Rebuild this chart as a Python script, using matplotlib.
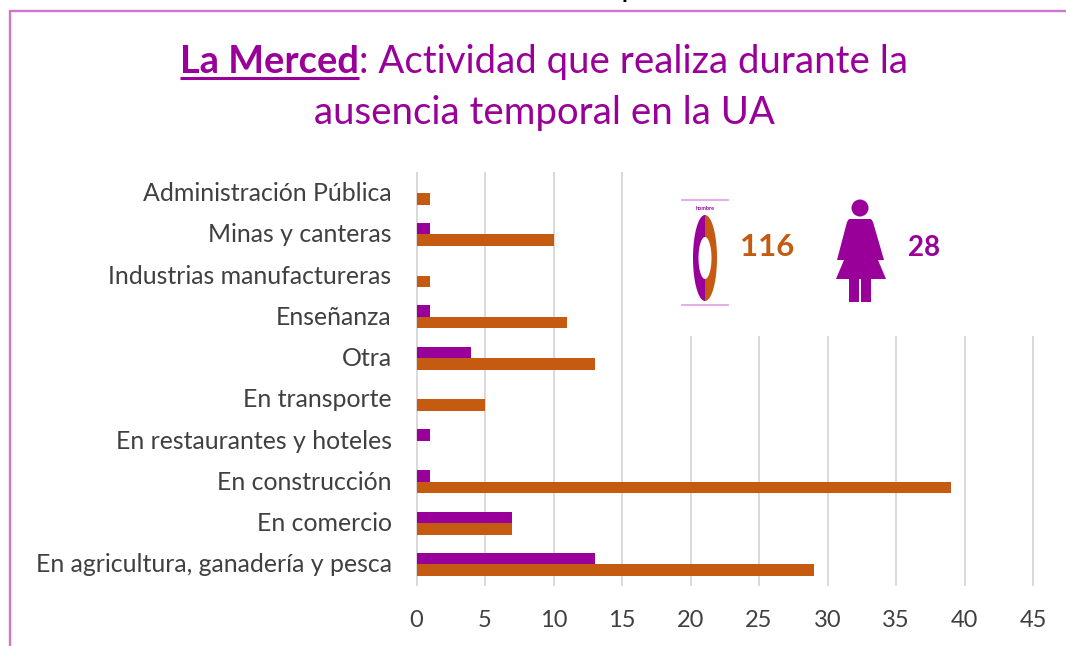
import matplotlib
matplotlib.use("Agg")
import matplotlib.pyplot as plt
from matplotlib.patches import Circle, Polygon, Rectangle
from matplotlib.transforms import ScaledTranslation
import numpy as np

W, H = 1066, 646
PURPLE = '#990099'
ORANGE = '#C55A11'
TEXT = '#404040'

categories = ['En agricultura, ganadería y pesca', 'En comercio', 'En construcción',
              'En restaurantes y hoteles', 'En transporte', 'Otra', 'Enseñanza',
              'Industrias manufactureras', 'Minas y canteras', 'Administración Pública']
mujeres = [13, 7, 1, 1, 0, 4, 1, 0, 1, 0]
hombres = [29, 7, 39, 0, 5, 13, 11, 1, 10, 1]
xticks = [0, 5, 10, 15, 20, 25, 30, 35, 40, 45]
total_hombres = '116'
total_mujeres = '28'

plt.rcParams['font.family'] = ['Lato', 'DejaVu Sans']

fig = plt.figure(figsize=(W / 100, H / 100), dpi=100)

# chart axes, placed in pixels
ax = fig.add_axes([416.5 / W, 1 - 585 / H, 616.5 / W, 412.5 / H])
y = np.arange(len(categories))
h = 0.28
ax.barh(y + h / 2, mujeres, h, color=PURPLE, zorder=3)
ax.barh(y - h / 2, hombres, h, color=ORANGE, zorder=3)
ax.set_xlim(0, 45)
ax.set_ylim(-0.5, 9.5)
ax.set_xticks(xticks)
ax.set_yticks(y)
ax.set_yticklabels(categories)
ax.tick_params(axis='both', length=0, labelcolor=TEXT)
ax.tick_params(axis='y', pad=18, labelsize=17.9)
ax.tick_params(axis='x', pad=18, labelsize=17)
ax.grid(axis='x', color='#D9D9D9', lw=1.4, zorder=0)
ax.set_axisbelow(True)
for g in ax.get_xgridlines():
    g.set_clip_on(False)
# labels sit a little higher than the bars' centre
for lab in ax.get_yticklabels():
    lab.set_transform(lab.get_transform() + ScaledTranslation(0, 1.5 / 100, fig.dpi_scale_trans))
for s in ax.spines.values():
    s.set_visible(False)

# overlay in pixel coordinates for frame, title and pictograms
ov = fig.add_axes([0, 0, 1, 1], zorder=5)
ov.set_xlim(0, W)
ov.set_ylim(H, 0)
ov.axis('off')
ov.patch.set_alpha(0)

ov.plot([10, 10, W], [H, 11, 11], color='#CC77CC', lw=1.7, solid_joinstyle='miter')
ov.text(628, -9, 'p', color='black', fontsize=17, fontweight='bold', ha='center', va='center')

# white box that hides the gridlines behind the pictograms
ov.add_patch(Rectangle((640, 165), 410, 171, fc='white', ec='none', zorder=1))

# title
fig.canvas.draw()
r = fig.canvas.get_renderer()
t1 = ov.text(180, 62, 'La Merced', color=PURPLE, fontsize=27.4, fontweight='bold', va='center', ha='left')
x1 = t1.get_window_extent(r).x1
ov.text(x1, 62, ': Actividad que realiza durante la', color=PURPLE, fontsize=27.6, va='center', ha='left')
ov.plot([180, x1], [78, 78], color=PURPLE, lw=2.2, solid_capstyle='butt')
ov.text(544, 113, 'ausencia temporal en la UA', color=PURPLE, fontsize=27.6, va='center', ha='center')

# ring pictogram
ov.plot([682, 728], [200, 200], color='#E3A6E3', lw=1.3)
ov.plot([682, 728], [304.5, 304.5], color='#E3A6E3', lw=1.3)
ov.text(705, 208.5, 'hombre', color=PURPLE, fontsize=4, fontweight='bold', ha='center', va='center')
cx, cy = 705, 258
t = np.linspace(-np.pi / 2, np.pi / 2, 60)
xo, yo = 12 * np.cos(t), 43 * np.sin(t)
xi, yi = 6.5 * np.cos(t), 21 * np.sin(t)
ov.add_patch(Polygon(np.c_[np.r_[cx + xo, cx + xi[::-1]], np.r_[cy + yo, cy + yi[::-1]]], fc=ORANGE, ec='none', zorder=3))
ov.add_patch(Polygon(np.c_[np.r_[cx - xo, cx - xi[::-1]], np.r_[cy + yo, cy + yi[::-1]]], fc=PURPLE, ec='none', zorder=3))
ov.text(767.5, 246.5, total_hombres, color=ORANGE, fontsize=22.5, fontweight='bold', ha='center', va='center', zorder=3)

# woman pictogram
ov.add_patch(Circle((860, 208), 8.5, fc=PURPLE, ec='none', zorder=3))
ov.add_patch(Polygon([(849, 219), (871, 219), (873, 222), (884, 260), (878, 260), (886, 279),
                      (836, 279), (844, 260), (837, 260), (847, 222)], fc=PURPLE, ec='none', zorder=3))
ov.add_patch(Rectangle((849, 275), 10, 27, fc=PURPLE, ec='none', zorder=3))
ov.add_patch(Rectangle((861, 275), 10, 27, fc=PURPLE, ec='none', zorder=3))
ov.text(924.5, 247.5, total_mujeres, color=PURPLE, fontsize=20, fontweight='bold', ha='center', va='center', zorder=3)

fig.savefig('out.png', dpi=100)
